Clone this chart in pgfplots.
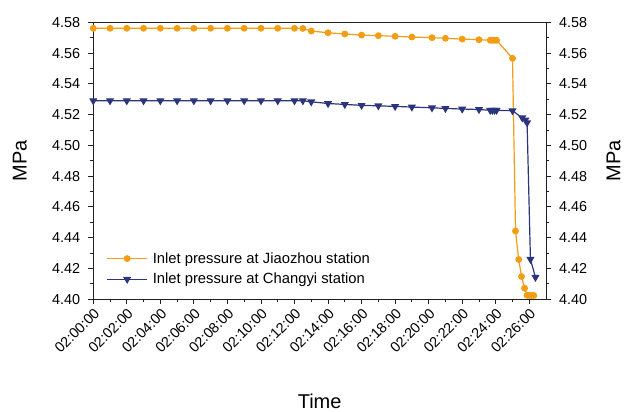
\documentclass[border=0pt]{standalone}
\usepackage{pgfplots}
\pgfplotsset{compat=1.18}
\usepackage{fontspec}
\setmainfont{Liberation Sans}
\definecolor{jz}{RGB}{242,157,20}
\definecolor{cy}{RGB}{44,52,125}
\definecolor{axc}{RGB}{35,31,32}

\begin{document}
\begin{tikzpicture}
\pgfplotsset{
  base/.style={
    scale only axis, width=453bp, height=277bp,
    xmin=0, xmax=27, ymin=4.40, ymax=4.58,
    axis line style={line width=0.8bp, axc},
    tick style={line width=0.8bp, axc},
    tick align=outside,
    major tick length=5bp, minor tick length=3bp,
    ytick={4.40,4.42,4.44,4.46,4.48,4.50,4.52,4.54,4.56,4.58},
    minor y tick num=1,
    yticklabel style={/pgf/number format/fixed, /pgf/number format/fixed zerofill, /pgf/number format/precision=2, inner xsep=8bp},
    /pgf/number format/assume math mode=true,
    ticklabel style={font=\fontsize{14.4bp}{16bp}\selectfont},
    label style={font=\fontsize{20bp}{24bp}\selectfont},
  }
}
\begin{axis}[base, name=ax,
  xtick={0,2,...,26},
  xticklabels={02:00:00,02:02:00,02:04:00,02:06:00,02:08:00,02:10:00,02:12:00,02:14:00,02:16:00,02:18:00,02:20:00,02:22:00,02:24:00,02:26:00},
  minor x tick num=1,
  xtick pos=bottom, ytick pos=left,
  x tick label style={rotate=45, anchor=north east, inner sep=2bp},
  xlabel={Time}, ylabel={MPa},
  xlabel style={at={(axis description cs:0.5,-0.368)}, anchor=center},
  ylabel style={at={(axis description cs:-0.162,0.5)}, anchor=center},
  legend cell align=left,
  legend style={at={(axis description cs:0.029,0.173)}, anchor=north west, draw=none, fill=none,
    font=\fontsize{14.8bp}{16bp}\selectfont, row sep=6.5bp, inner sep=0pt,
    nodes={inner xsep=5bp, inner ysep=1bp}},
  legend image code/.code={\draw[mark repeat=2,mark phase=2,#1] plot coordinates {(0bp,0bp) (20bp,0bp) (40bp,0bp)};},
]
\addplot[jz, line width=1.2bp, mark=*, mark size=2.8bp, mark options={solid, fill=jz, draw=jz}] coordinates {
(0,4.5761)(1,4.5761)(2,4.5761)(3,4.5761)(4,4.5761)(5,4.5761)(6,4.5761)(7,4.5761)(8,4.5761)(9,4.5761)(10,4.5761)(11,4.5761)(12,4.5761)(12.5,4.5760)
(13,4.5743)(14,4.5732)(15,4.5724)(16,4.5717)(17,4.5713)(18,4.5709)(19,4.5704)(20.2,4.5700)(21,4.5696)(22,4.5691)(23,4.5687)
(23.67,4.5683)(23.8,4.5683)(23.93,4.5683)(24.05,4.5683)
(25.0,4.5566)(25.18,4.4443)(25.37,4.4258)(25.54,4.4147)(25.72,4.4071)(25.87,4.4025)(26.0,4.4024)(26.13,4.4024)(26.27,4.4024)
};
\addlegendentry{Inlet pressure at Jiaozhou station}
\addplot[cy, line width=1.2bp, mark=triangle*, mark size=3.5bp, mark options={solid, fill=cy, draw=cy, rotate=180}] coordinates {
(0,4.5290)(1,4.5290)(2,4.5290)(3,4.5290)(4,4.5290)(5,4.5290)(6,4.5290)(7,4.5290)(8,4.5290)(9,4.5290)(10,4.5290)(11,4.5290)(12,4.5290)(12.5,4.5290)
(13,4.5283)(14,4.5272)(15,4.5266)(16,4.5260)(17,4.5257)(18,4.5253)(19,4.5249)(20.2,4.5244)(21,4.5240)(22,4.5236)(23,4.5233)
(23.67,4.5228)(23.8,4.5228)(23.93,4.5228)(24.05,4.5228)
(25.0,4.5225)(25.58,4.5179)(25.77,4.5165)(25.87,4.5147)(26.07,4.4259)(26.37,4.4142)
};
\addlegendentry{Inlet pressure at Changyi station}
\end{axis}
\begin{axis}[base,
  axis x line=none, axis y line*=right,
  ylabel={MPa},
  ylabel style={at={(axis description cs:1.149,0.5)}, anchor=center},
]
\addplot[draw=none] coordinates {(0,4.5)};
\end{axis}
\pgfresetboundingbox
\path[use as bounding box] ([xshift=-93.3bp,yshift=-112bp]ax.south west) rectangle ([xshift=79bp,yshift=22.3bp]ax.north east);
\end{tikzpicture}
\end{document}
